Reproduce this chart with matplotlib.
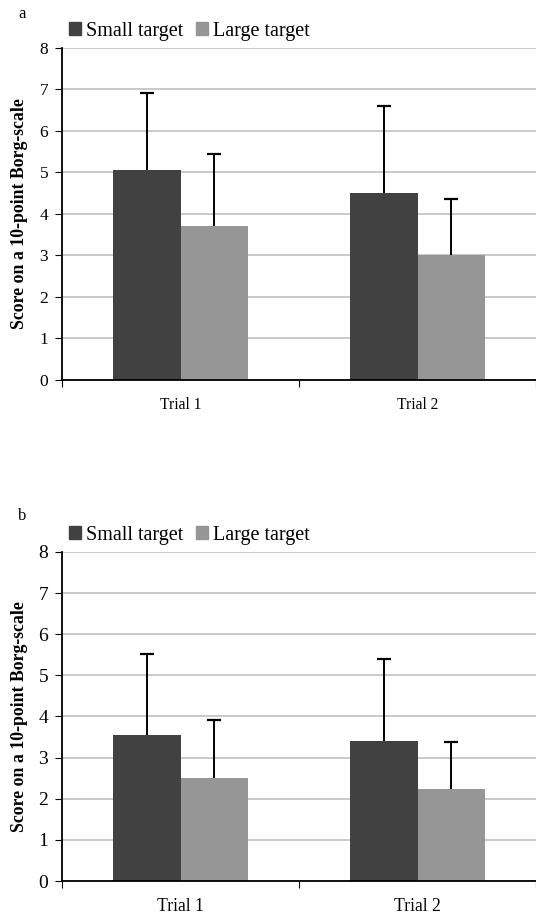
import matplotlib.pyplot as plt
import numpy as np
from matplotlib.patches import Patch

plt.rcParams['font.family'] = ['Liberation Serif', 'DejaVu Serif']

trials = ['Trial 1', 'Trial 2']
series = ['Small target', 'Large target']

# panel a
a_small = [5.05, 4.50]
a_small_err = [1.87, 2.10]
a_large = [3.72, 3.00]
a_large_err = [1.73, 1.37]

# panel b
b_small = [3.55, 3.40]
b_small_err = [1.98, 2.00]
b_large = [2.50, 2.23]
b_large_err = [1.42, 1.14]

dark = '#414141'
light = '#969696'

fig = plt.figure(figsize=(5.36, 9.16), dpi=100)


def panel(rect, small, small_err, large, large_err, letter, letter_y,
          tick_fs, cat_fs):
    ax = fig.add_axes(rect)
    x = np.arange(len(trials))
    w = 0.283
    for off, vals, errs, col in [(-w / 2, small, small_err, dark),
                                 (w / 2, large, large_err, light)]:
        vals = np.array(vals)
        errs = np.array(errs)
        ax.bar(x + off, vals, w, color=col, zorder=2)
        # plus-only error bars, cap at the top only
        ax.vlines(x + off, vals, vals + errs, color='black', lw=1.4, zorder=3)
        ax.plot(x + off, vals + errs, linestyle='none', marker='_',
                markersize=10, markeredgewidth=1.6, color='black', zorder=3)
    ax.set_xlim(-0.5, 1.5)
    ax.set_ylim(0, 8)
    ax.set_yticks(range(0, 9))
    ax.yaxis.grid(True, color='#c0c0c0', linewidth=1.2, zorder=0)
    ax.set_axisbelow(True)
    ax.spines['top'].set_visible(False)
    ax.spines['right'].set_visible(False)
    ax.spines['left'].set_linewidth(1.3)
    ax.spines['bottom'].set_linewidth(1.3)
    ax.set_xticks([-0.5, 0.5, 1.5])
    ax.set_xticklabels([])
    ax.set_xticks(x, minor=True)
    ax.set_xticklabels(trials, minor=True, fontsize=cat_fs)
    ax.tick_params(axis='x', which='minor', length=0, pad=12)
    ax.tick_params(axis='x', which='major', length=5, direction='out')
    ax.tick_params(axis='y', length=5, direction='out', labelsize=tick_fs,
                   pad=5)
    ax.set_ylabel('Score on a 10-point Borg-scale', fontsize=12.8,
                  fontweight='bold')
    ax.yaxis.set_label_coords(-0.072, 0.5)
    handles = [Patch(color=dark), Patch(color=light)]
    ax.legend(handles, series, loc='lower left', bbox_to_anchor=(0.0, 1.0),
              ncol=2, frameon=False, fontsize=14.5, handlelength=0.6,
              handleheight=0.6, handletextpad=0.25, columnspacing=0.6,
              borderaxespad=0.15, borderpad=0.2)
    fig.text(0.034, letter_y, letter, fontsize=12, va='center')
    return ax


panel([0.1157, 0.5852, 0.8843, 0.3624], a_small, a_small_err, a_large,
      a_large_err, 'a', 1 - 14 / 916, 12.5, 11.2)
panel([0.1157, 0.0382, 0.8843, 0.3592], b_small, b_small_err, b_large,
      b_large_err, 'b', 1 - 516 / 916, 14, 12.7)

fig.savefig('out.png', dpi=100)
